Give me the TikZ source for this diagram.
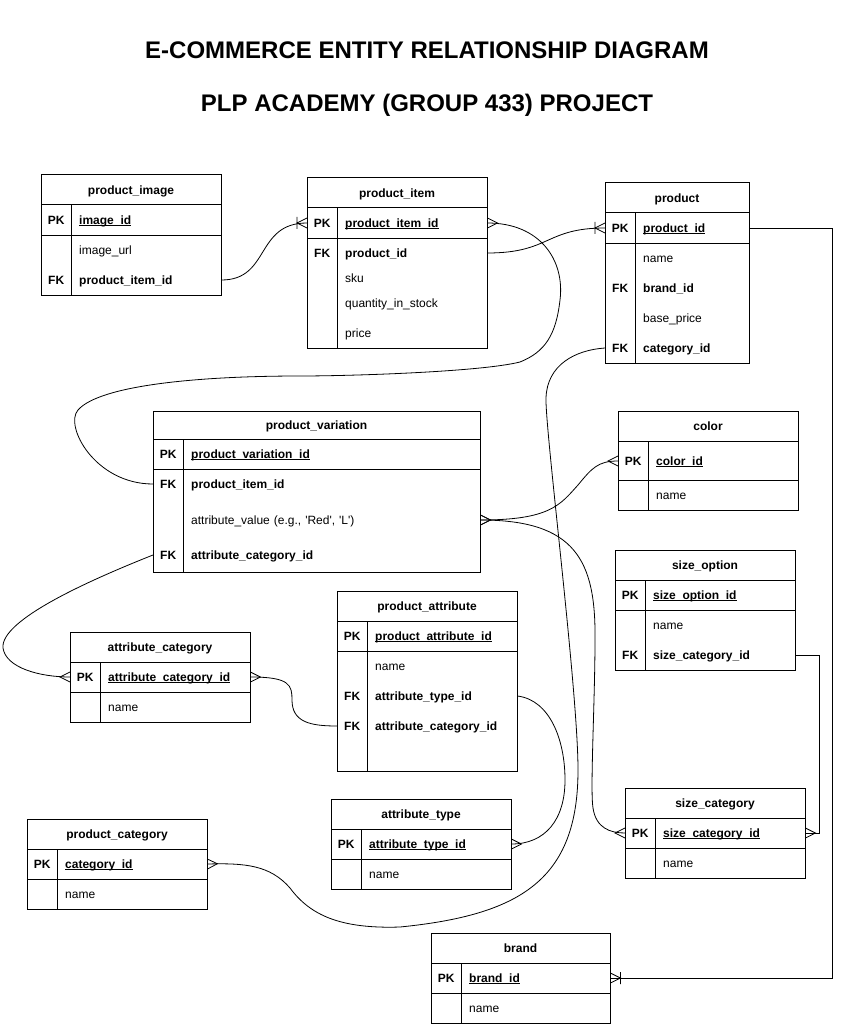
\documentclass[tikz,border=0pt]{standalone}
\usepackage{fontspec}
\setmainfont{Liberation Sans}
\usetikzlibrary{calc}

\pgfdeclarearrow{
  name = crow,
  setup code = {
    \pgfarrowssettipend{0pt}
    \pgfarrowssetlineend{0pt}
    \pgfarrowssetbackend{-10pt}
    \pgfarrowssetvisualbackend{-10pt}
    \pgfarrowshullpoint{0pt}{5pt}
    \pgfarrowshullpoint{0pt}{-5pt}
    \pgfarrowshullpoint{-10pt}{0pt}
  },
  drawing code = {
    \pgfsetlinewidth{0.8pt}
    \pgfsetdash{}{0pt}
    \pgfpathmoveto{\pgfqpoint{0pt}{5pt}}
    \pgfpathlineto{\pgfqpoint{-10pt}{0pt}}
    \pgfpathlineto{\pgfqpoint{0pt}{-5pt}}
    \pgfusepathqstroke
  }
}
\pgfdeclarearrow{
  name = crowbar,
  setup code = {
    \pgfarrowssettipend{0pt}
    \pgfarrowssetlineend{0pt}
    \pgfarrowssetbackend{-10pt}
    \pgfarrowssetvisualbackend{-10pt}
    \pgfarrowshullpoint{0pt}{5pt}
    \pgfarrowshullpoint{0pt}{-5pt}
    \pgfarrowshullpoint{-10pt}{6pt}
    \pgfarrowshullpoint{-10pt}{-6pt}
  },
  drawing code = {
    \pgfsetlinewidth{0.8pt}
    \pgfsetdash{}{0pt}
    \pgfpathmoveto{\pgfqpoint{0pt}{5pt}}
    \pgfpathlineto{\pgfqpoint{-10pt}{0pt}}
    \pgfpathlineto{\pgfqpoint{0pt}{-5pt}}
    \pgfpathmoveto{\pgfqpoint{-10pt}{6pt}}
    \pgfpathlineto{\pgfqpoint{-10pt}{-6pt}}
    \pgfusepathqstroke
  }
}

\newcommand{\fsz}{\fontsize{12}{14}\selectfont}
\newcommand{\ulin}[1]{\setbox0=\hbox{#1}\rlap{\rule[-1.6pt]{\wd0}{0.7pt}}\box0}
\newcommand{\kc}[1]{\makebox[30pt][c]{\bfseries #1}\hspace*{8pt}}
\newcommand{\sq}{\XeTeXglyph\XeTeXcharglyph"0027\relax}

\tikzset{
  ebox/.style={draw, line width=1pt, inner sep=0pt, outer sep=0pt, anchor=north west},
  sepl/.style={line width=1pt},
  etitle/.style={inner sep=0pt, font=\bfseries\fsz, text height=9.6pt, text depth=1pt},
  erow/.style={anchor=west, inner sep=0pt, text width=#1, align=left, font=\fsz, text height=9.6pt, text depth=1pt},
  rel/.style={line width=0.8pt},
  bigtitle/.style={inner sep=0pt, font=\bfseries\fontsize{24}{28}\selectfont, text height=17.2pt, text depth=0pt}
}

% name, x, y, w, h, title, title row height
\newcommand{\erbox}[7]{%
  \node[ebox, minimum width=#4pt, minimum height=#5pt] (#1) at (#2,#3) {};
  \node[etitle] (#1-t) at ($(#1.north)+(0,#7/2)$) {#6};
  \draw[sepl] ($(#1.north west)+(0,#7)$) -- ($(#1.north east)+(0,#7)$);
}
% name, pk separator offset, title row height
\newcommand{\keycol}[3]{%
  \draw[sepl] ($(#1.north west)+(0,#2)$) -- ($(#1.north east)+(0,#2)$);
  \draw[sepl] ($(#1.north west)+(30,#3)$) -- ($(#1.south west)+(30,0)$);
}

\begin{document}
\begin{tikzpicture}[x=1pt, y=-1pt]
\fill[white] (0,0) rectangle (845,1024);
\useasboundingbox (0,0) rectangle (845,1024);

\node[bigtitle] (title1) at (427,50) {E-COMMERCE ENTITY RELATIONSHIP DIAGRAM};
\node[bigtitle] (title2) at (427,103) {PLP ACADEMY (GROUP 433) PROJECT};

% product_image
\erbox{pimg}{41}{175}{180}{120}{product\_image}{30}
\keycol{pimg}{60}{30}
\node[erow=180pt] (pimg-pk) at (41,220) {\kc{PK}{\bfseries\ulin{image\_id}}};
\node[erow=180pt] (pimg-url) at (41,250) {\kc{}image\_url};
\node[erow=180pt] (pimg-fk) at (41,280) {\kc{FK}{\bfseries product\_item\_id}};

% product_item
\erbox{pitem}{307}{178}{180}{170}{product\_item}{30}
\keycol{pitem}{60}{30}
\node[erow=180pt] (pitem-pk) at (307,223) {\kc{PK}{\bfseries\ulin{product\_item\_id}}};
\node[erow=180pt] (pitem-fk) at (307,253) {\kc{FK}{\bfseries product\_id}};
\node[erow=180pt] (pitem-sku) at (307,278) {\kc{}sku};
\node[erow=180pt] (pitem-qty) at (307,303) {\kc{}quantity\_in\_stock};
\node[erow=180pt] (pitem-price) at (307,333) {\kc{}price};

% product
\erbox{prod}{605}{183}{144}{180}{product}{30}
\keycol{prod}{60}{30}
\node[erow=144pt] (prod-pk) at (605,228) {\kc{PK}{\bfseries\ulin{product\_id}}};
\node[erow=144pt] (prod-name) at (605,258) {\kc{}name};
\node[erow=144pt] (prod-brand) at (605,288) {\kc{FK}{\bfseries brand\_id}};
\node[erow=144pt] (prod-price) at (605,318) {\kc{}base\_price};
\node[erow=144pt] (prod-cat) at (605,348) {\kc{FK}{\bfseries category\_id}};

% product_variation
\erbox{pvar}{153}{411}{327}{161}{product\_variation}{28}
\keycol{pvar}{58}{28}
\node[erow=327pt] (pvar-pk) at (153,454) {\kc{PK}{\bfseries\ulin{product\_variation\_id}}};
\node[erow=327pt] (pvar-item) at (153,484) {\kc{FK}{\bfseries product\_item\_id}};
\node[erow=327pt] (pvar-val) at (153,520) {\kc{}attribute\_value (e.g., \sq Red\sq, \sq L\sq)};
\node[erow=327pt] (pvar-cat) at (153,555) {\kc{FK}{\bfseries attribute\_category\_id}};

% color
\erbox{color}{618}{411}{180}{99}{color}{30}
\keycol{color}{69}{30}
\node[erow=180pt] (color-pk) at (618,461) {\kc{PK}{\bfseries\ulin{color\_id}}};
\node[erow=180pt] (color-name) at (618,495) {\kc{}name};

% size_option
\erbox{sopt}{615}{550}{180}{120}{size\_option}{30}
\keycol{sopt}{60}{30}
\node[erow=180pt] (sopt-pk) at (615,595) {\kc{PK}{\bfseries\ulin{size\_option\_id}}};
\node[erow=180pt] (sopt-name) at (615,625) {\kc{}name};
\node[erow=180pt] (sopt-fk) at (615,655) {\kc{FK}{\bfseries size\_category\_id}};

% attribute_category
\erbox{acat}{70}{632}{180}{90}{attribute\_category}{30}
\keycol{acat}{60}{30}
\node[erow=180pt] (acat-pk) at (70,677) {\kc{PK}{\bfseries\ulin{attribute\_category\_id}}};
\node[erow=180pt] (acat-name) at (70,707) {\kc{}name};

% product_attribute
\erbox{pattr}{337}{591}{180}{180}{product\_attribute}{30}
\keycol{pattr}{60}{30}
\node[erow=180pt] (pattr-pk) at (337,636) {\kc{PK}{\bfseries\ulin{product\_attribute\_id}}};
\node[erow=180pt] (pattr-name) at (337,666) {\kc{}name};
\node[erow=180pt] (pattr-type) at (337,696) {\kc{FK}{\bfseries attribute\_type\_id}};
\node[erow=180pt] (pattr-cat) at (337,726) {\kc{FK}{\bfseries attribute\_category\_id}};

% attribute_type
\erbox{atype}{331}{799}{180}{90}{attribute\_type}{30}
\keycol{atype}{60}{30}
\node[erow=180pt] (atype-pk) at (331,844) {\kc{PK}{\bfseries\ulin{attribute\_type\_id}}};
\node[erow=180pt] (atype-name) at (331,874) {\kc{}name};

% product_category
\erbox{pcat}{27}{819}{180}{90}{product\_category}{30}
\keycol{pcat}{60}{30}
\node[erow=180pt] (pcat-pk) at (27,864) {\kc{PK}{\bfseries\ulin{category\_id}}};
\node[erow=180pt] (pcat-name) at (27,894) {\kc{}name};

% brand
\erbox{brand}{431}{933}{179}{90}{brand}{30}
\keycol{brand}{60}{30}
\node[erow=179pt] (brand-pk) at (431,978) {\kc{PK}{\bfseries\ulin{brand\_id}}};
\node[erow=179pt] (brand-name) at (431,1008) {\kc{}name};

% size_category
\erbox{scat}{625}{788}{180}{90}{size\_category}{30}
\keycol{scat}{60}{30}
\node[erow=180pt] (scat-pk) at (625,833) {\kc{PK}{\bfseries\ulin{size\_category\_id}}};
\node[erow=180pt] (scat-name) at (625,863) {\kc{}name};

% relationships
\draw[rel, -{crowbar}] (pimg-fk.east) .. controls +(49,0) and +(-52,0) .. (pitem-pk.west);
\draw[rel, -{crowbar}] (pitem-fk.east) .. controls +(63,0) and +(-60,0) .. (prod-pk.west);
\draw[rel, {crow}-] (pitem-pk.east) .. controls (540,223) and (565,260) .. (560,300)
  .. controls (556,335) and (545,352) .. (520,362)
  .. controls (480,372) and (350,376) .. (300,376)
  .. controls (200,376) and (100,385) .. (78,410)
  .. controls (64,426) and (95,484) .. (pvar-item.west);
\draw[rel, -{crow}] (prod-cat.west) .. controls (575,350) and (547,365) .. (546,398)
  .. controls (545,430) and (578,690) .. (578,770)
  .. controls (578,880) and (520,915) .. (400,927)
  .. controls (340,929) and (310,915) .. (290,888)
  .. controls (270,865) and (245,863) .. (pcat-pk.east);
\draw[rel, {crow}-{crow}] (pvar-val.east) .. controls (550,520) and (560,505) .. (578,485)
  .. controls (592,468) and (598,461) .. (color-pk.west);
\draw[rel, {crow}-{crow}] (pvar-val.east) .. controls (575,520) and (596,560) .. (595,640)
  .. controls (595,700) and (590,790) .. (593,808)
  .. controls (596,828) and (610,833) .. (scat-pk.west);
\draw[rel, -{crow}] (pvar-cat.west) .. controls (90,580) and (0,620) .. (3,648)
  .. controls (6,668) and (40,677) .. (acat-pk.west);
\draw[rel, {crow}-] (acat-pk.east) .. controls (290,677) and (292,685) .. (292,700)
  .. controls (292,722) and (310,726) .. (pattr-cat.west);
\draw[rel, -{crow}] (pattr-type.east) .. controls (550,700) and (565,740) .. (565,780)
  .. controls (565,820) and (545,844) .. (atype-pk.east);
\draw[rel, -{crowbar}] (prod-pk.east) -- ($(prod-pk.east)+(83,0)$) |- (brand-pk.east);
\draw[rel, -{crow}] (sopt-fk.east) -- ($(sopt-fk.east)+(24,0)$) |- (scat-pk.east);
\end{tikzpicture}
\end{document}
